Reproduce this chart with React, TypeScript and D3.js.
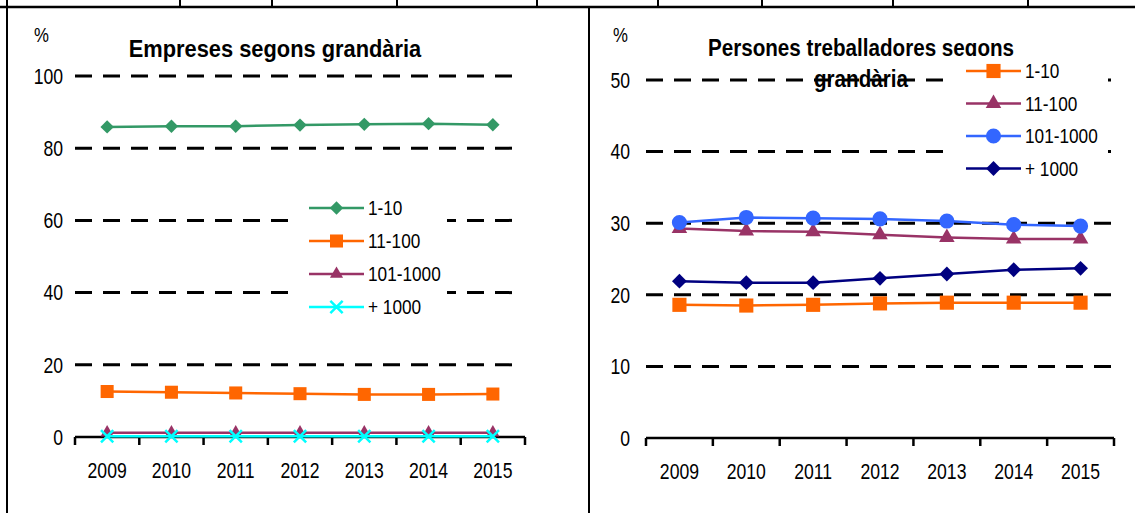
import React from "react";
import * as d3 from "d3";

const years = ["2009", "2010", "2011", "2012", "2013", "2014", "2015"];

// Left chart: Empreses segons grandària (%)
const leftTitle = ["Empreses segons grandària"];
const leftTicks = [0, 20, 40, 60, 80, 100];
const empSeriesNames = ["1-10", "11-100", "101-1000", "+ 1000"];
const emp_1_10 = [85.9, 86.1, 86.1, 86.4, 86.6, 86.8, 86.5];
const emp_11_100 = [12.6, 12.4, 12.2, 12.0, 11.8, 11.8, 11.9];
const emp_101_1000 = [1.2, 1.2, 1.2, 1.2, 1.2, 1.2, 1.2];
const emp_1000 = [0.2, 0.2, 0.2, 0.2, 0.2, 0.2, 0.2];

// Right chart: Persones treballadores segons grandària (%)
const rightTitle = ["Persones treballadores segons", "grandària"];
const rightTicks = [0, 10, 20, 30, 40, 50];
const perSeriesNames = ["1-10", "11-100", "101-1000", "+ 1000"];
const per_1_10 = [18.6, 18.5, 18.6, 18.8, 18.9, 18.9, 18.9];
const per_11_100 = [29.25, 28.9, 28.8, 28.4, 28.0, 27.8, 27.8];
const per_101_1000 = [30.1, 30.8, 30.7, 30.6, 30.3, 29.8, 29.6];
const per_1000 = [21.9, 21.7, 21.7, 22.3, 22.9, 23.5, 23.7];

// Table fragment at top (column separators)
const tableCols = [7, 180, 272, 397, 537, 658, 762, 893, 1028];

const FONT = "'Liberation Sans', Arial, sans-serif";
const NARROW = 0.8;

type Marker = "diamond" | "square" | "triangle" | "times" | "circle";
type Series = { name: string; values: number[]; color: string; marker: Marker; size: number };

function NText({
  x,
  y,
  size,
  anchor,
  bold,
  sx,
  dy,
  children,
}: {
  x: number;
  y: number;
  size: number;
  anchor?: "start" | "middle" | "end";
  bold?: boolean;
  sx?: number;
  dy?: string;
  children: React.ReactNode;
}) {
  return (
    <g transform={`translate(${x},${y}) scale(${sx ?? NARROW},1)`}>
      <text
        x={0}
        y={0}
        dy={dy}
        textAnchor={anchor ?? "start"}
        fontFamily={FONT}
        fontWeight={bold ? "bold" : "normal"}
        fontSize={size}
        fill="#000"
      >
        {children}
      </text>
    </g>
  );
}

function markerPath(m: Marker, size: number): { d: string; rot: number; stroke: boolean } {
  switch (m) {
    case "diamond":
      return { d: d3.symbol(d3.symbolSquare, size)() as string, rot: 45, stroke: false };
    case "square":
      return { d: d3.symbol(d3.symbolSquare, size)() as string, rot: 0, stroke: false };
    case "triangle":
      return { d: d3.symbol(d3.symbolTriangle, size)() as string, rot: 0, stroke: false };
    case "circle":
      return { d: d3.symbol(d3.symbolCircle, size)() as string, rot: 0, stroke: false };
    case "times":
      return { d: d3.symbol(d3.symbolTimes, size)() as string, rot: 0, stroke: true };
  }
}

function MarkerG({ m, size, color, x, y }: { m: Marker; size: number; color: string; x: number; y: number }) {
  const p = markerPath(m, size);
  return (
    <path
      d={p.d}
      transform={`translate(${x},${y}) rotate(${p.rot})`}
      fill={p.stroke ? "none" : color}
      stroke={p.stroke ? color : "none"}
      strokeWidth={p.stroke ? 2.5 : 0}
    />
  );
}

type ChartProps = {
  x0: number;
  x1: number;
  yTop: number;
  yBottom: number;
  maxV: number;
  ticks: number[];
  series: Series[];
  title: string[];
  titleX: number;
  titleY: number;
  titleLineH: number;
  titleSx: number;
  pctX: number;
  pctY: number;
  legendBox: [number, number, number, number];
  legendLineX: [number, number];
  legendY0: number;
  legendDy: number;
  gridEnd: number;
  labelX: number;
};

function Chart(p: ChartProps) {
  const x = d3.scaleBand<string>().domain(years).range([p.x0, p.x1]).paddingInner(0).paddingOuter(0);
  const y = d3.scaleLinear().domain([0, p.maxV]).range([p.yBottom, p.yTop]);
  const bw = x.bandwidth();
  const boundaries = years.map((yr) => x(yr) as number).concat([p.x1]);
  const [bx, by, bwid, bh] = p.legendBox;

  return (
    <g>
      <NText x={p.pctX} y={p.pctY} size={21}>%</NText>
      {p.title.map((t, i) => (
        <NText
          key={i}
          x={p.titleX}
          y={p.titleY + i * p.titleLineH}
          anchor="middle"
          bold
          size={24}
          sx={p.titleSx}
        >
          {t}
        </NText>
      ))}
      {p.ticks.filter((t) => t > 0).map((t) => (
        <line
          key={t}
          x1={p.x0}
          x2={p.gridEnd}
          y1={y(t)}
          y2={y(t)}
          stroke="#000"
          strokeWidth={3}
          strokeDasharray="17 11"
        />
      ))}
      {p.ticks.map((t) => (
        <NText key={"l" + t} x={p.labelX} y={y(t)} dy="0.35em" anchor="end" size={22}>
          {t}
        </NText>
      ))}
      <line x1={p.x0} x2={p.x1} y1={y(0)} y2={y(0)} stroke="#000" strokeWidth={2.5} />
      {boundaries.map((bxv, i) => (
        <line key={"t" + i} x1={bxv} x2={bxv} y1={y(0)} y2={y(0) + 8} stroke="#000" strokeWidth={2.5} />
      ))}
      {years.map((yr) => (
        <NText key={yr} x={(x(yr) as number) + bw / 2} y={y(0) + 41} anchor="middle" size={22}>
          {yr}
        </NText>
      ))}
      {p.series.map((s) => {
        const line = d3
          .line<number>()
          .x((_, i) => (x(years[i]) as number) + bw / 2)
          .y((v) => y(v));
        return (
          <g key={s.name}>
            <path d={line(s.values) as string} fill="none" stroke={s.color} strokeWidth={2.5} />
            {s.values.map((v, i) => (
              <MarkerG
                key={i}
                m={s.marker}
                size={s.size}
                color={s.color}
                x={(x(years[i]) as number) + bw / 2}
                y={y(v)}
              />
            ))}
          </g>
        );
      })}
      <rect x={bx} y={by} width={bwid} height={bh} fill="#fff" />
      {p.series.map((s, i) => {
        const ly = p.legendY0 + i * p.legendDy;
        const mx = (p.legendLineX[0] + p.legendLineX[1]) / 2;
        return (
          <g key={"lg" + s.name}>
            <line x1={p.legendLineX[0]} x2={p.legendLineX[1]} y1={ly} y2={ly} stroke={s.color} strokeWidth={2.5} />
            <MarkerG m={s.marker} size={s.size} color={s.color} x={mx} y={ly} />
            <NText x={p.legendLineX[1] + 4} y={ly} dy="0.35em" size={21} sx={0.82}>
              {s.name}
            </NText>
          </g>
        );
      })}
    </g>
  );
}

export default function App() {
  const leftSeries: Series[] = [
    { name: empSeriesNames[0], values: emp_1_10, color: "#339966", marker: "diamond", size: 90 },
    { name: empSeriesNames[1], values: emp_11_100, color: "#FF6600", marker: "square", size: 170 },
    { name: empSeriesNames[2], values: emp_101_1000, color: "#993366", marker: "triangle", size: 75 },
    { name: empSeriesNames[3], values: emp_1000, color: "#00FFFF", marker: "times", size: 100 },
  ];
  const rightSeries: Series[] = [
    { name: perSeriesNames[0], values: per_1_10, color: "#FF6600", marker: "square", size: 200 },
    { name: perSeriesNames[1], values: per_11_100, color: "#993366", marker: "triangle", size: 105 },
    { name: perSeriesNames[2], values: per_101_1000, color: "#3366FF", marker: "circle", size: 180 },
    { name: perSeriesNames[3], values: per_1000, color: "#000080", marker: "diamond", size: 110 },
  ];

  return (
    <svg
      width={1135}
      height={513}
      style={{ position: "absolute", left: 0, top: 0, background: "#fff" }}
    >
      <rect x={0} y={0} width={1135} height={513} fill="#fff" />
      {tableCols.map((cx, i) => (
        <line key={i} x1={cx} x2={cx} y1={0} y2={7} stroke="#000" strokeWidth={2} />
      ))}
      <line x1={0} x2={1135} y1={7} y2={7} stroke="#000" strokeWidth={2.5} />
      <line x1={7} x2={7} y1={7} y2={513} stroke="#000" strokeWidth={2} />
      <line x1={589} x2={589} y1={7} y2={513} stroke="#000" strokeWidth={2} />

      <Chart
        x0={75}
        x1={525}
        yTop={76}
        yBottom={437}
        maxV={100}
        ticks={leftTicks}
        series={leftSeries}
        title={leftTitle}
        titleX={275}
        titleY={57}
        titleLineH={30}
        titleSx={0.91}
        pctX={34}
        pctY={42}
        legendBox={[289, 192, 158, 132]}
        legendLineX={[309, 364]}
        legendY0={208}
        legendDy={33}
        gridEnd={515}
        labelX={63}
      />
      <Chart
        x0={646}
        x1={1114}
        yTop={80}
        yBottom={438}
        maxV={50}
        ticks={rightTicks}
        series={rightSeries}
        title={rightTitle}
        titleX={861}
        titleY={56}
        titleLineH={31}
        titleSx={0.86}
        pctX={613}
        pctY={42}
        legendBox={[946, 56, 162, 130]}
        legendLineX={[966, 1021]}
        legendY0={71}
        legendDy={32.5}
        gridEnd={1114}
        labelX={630}
      />
    </svg>
  );
}
